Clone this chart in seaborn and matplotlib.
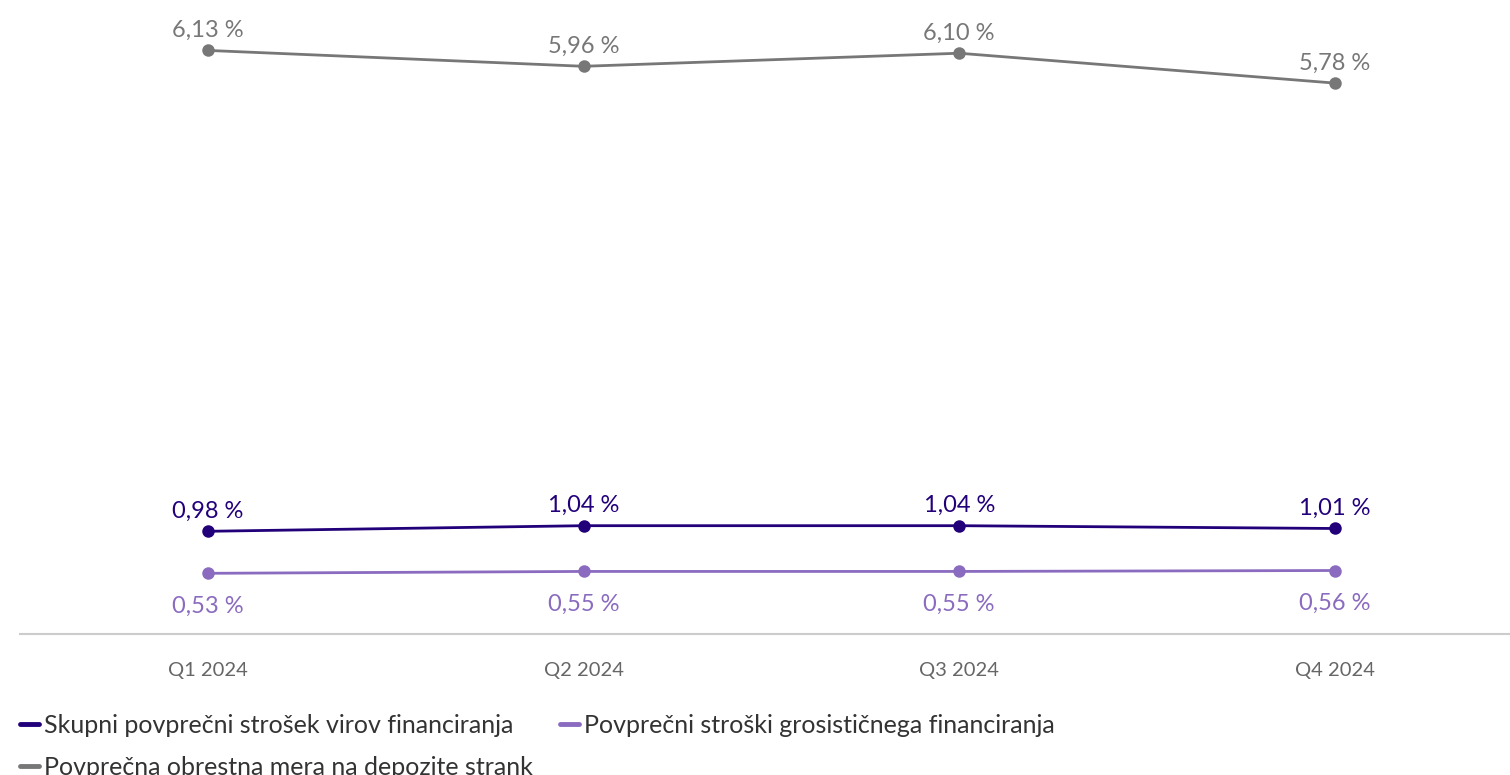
import pandas as pd
import matplotlib
matplotlib.use('Agg')
import matplotlib.pyplot as plt
import seaborn as sns
from matplotlib.lines import Line2D

# Data
quarters = ['Q1 2024', 'Q2 2024', 'Q3 2024', 'Q4 2024']
series_names = [
    'Skupni povprečni strošek virov financiranja',
    'Povprečni stroški grosističnega financiranja',
    'Povprečna obrestna mera na depozite strank',
]
skupni = [0.98, 1.04, 1.04, 1.01]
grosisticni = [0.53, 0.55, 0.55, 0.56]
depoziti = [6.13, 5.96, 6.10, 5.78]

colors = ['#22007a', '#8a6bbf', '#777777']
label_side = [1, -1, 1]  # above / below point

rows = []
for name, vals in zip(series_names, [skupni, grosisticni, depoziti]):
    for i, (q, v) in enumerate(zip(quarters, vals)):
        rows.append({'pos': i, 'quarter': q, 'serie': name, 'value': v})
df = pd.DataFrame(rows)

sns.set_theme(style='white')
plt.rcParams['font.family'] = ['Lato', 'DejaVu Sans']

fig = plt.figure(figsize=(15.1, 7.75), dpi=100)
ax = fig.add_axes([20 / 1510, (775 - 634) / 775, 1490 / 1510, 634 / 775])

sns.lineplot(data=df, x='pos', y='value', hue='serie', palette=colors,
             hue_order=series_names, marker='o', markersize=9,
             markeredgewidth=0, linewidth=2, ax=ax, legend=False)

for name, col, side in zip(series_names, colors, label_side):
    sub = df[df['serie'] == name]
    for _, r in sub.iterrows():
        txt = f"{r['value']:.2f} %".replace('.', ',')
        off = 7 if side > 0 else -16
        ax.annotate(txt, (r['pos'], r['value']), xytext=(0, off),
                    textcoords='offset points', ha='center',
                    va='bottom' if side > 0 else 'top',
                    color=col, fontsize=17)

ax.set_xlim(-0.5, 3.466)
ax.set_ylim(-0.12, 6.67)
ax.set_xticks(range(len(quarters)))
ax.set_xticklabels(quarters, fontsize=14.5, color='#666666')
ax.tick_params(axis='x', length=0, pad=20)
ax.set_yticks([])
ax.set_xlabel('')
ax.set_ylabel('')
for s in ['top', 'right', 'left']:
    ax.spines[s].set_visible(False)
ax.spines['bottom'].set_color('#cccccc')
ax.spines['bottom'].set_linewidth(1.5)

handles = [Line2D([0], [0], color=c, linewidth=3.5) for c in colors]
order = [0, 2, 1]
leg = fig.legend([handles[i] for i in order], [series_names[i] for i in order],
                 loc='upper left', bbox_to_anchor=(20 / 1510, 1 - 714 / 775),
                 ncol=2, frameon=False, fontsize=18, handlelength=0.75,
                 handletextpad=0.2, columnspacing=1.1, labelspacing=0.75,
                 borderaxespad=0, borderpad=0)
for t in leg.get_texts():
    t.set_color('#333333')

fig.savefig('out.png', dpi=100)
